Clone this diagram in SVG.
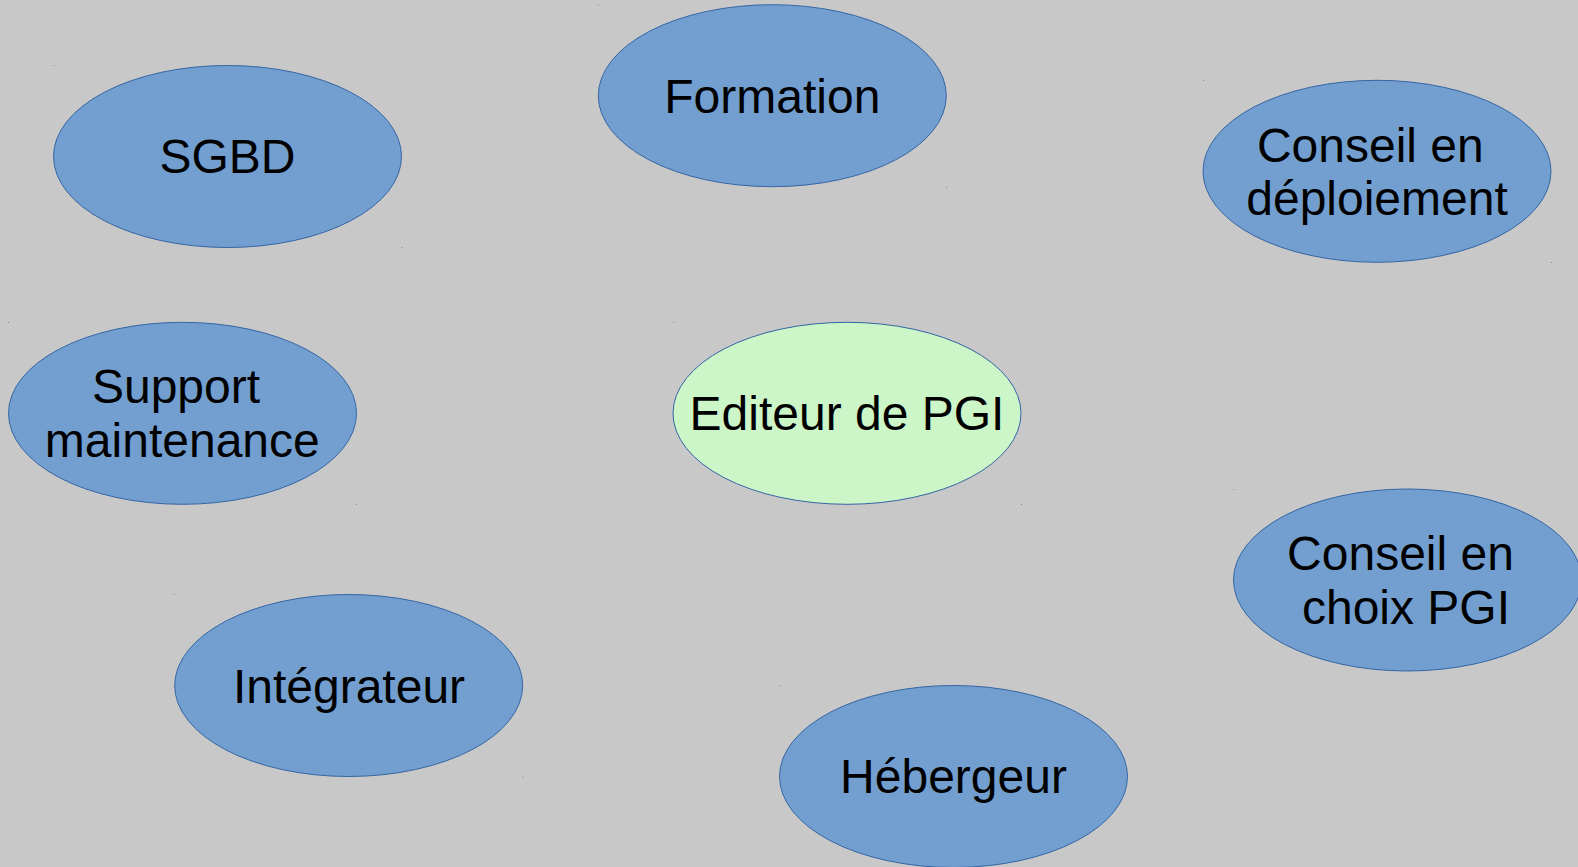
<svg xmlns="http://www.w3.org/2000/svg" width="1578" height="867" viewBox="0 0 1578 867">
<style>
.bg{fill:#c8c8c8}
.n{fill:#729fcf;stroke:#3465a4;stroke-width:1}
.c{fill:#ccf5c8;stroke:#3465a4;stroke-width:1}
.t{font-family:"Liberation Sans",Arial,sans-serif;font-size:48px;fill:#000;text-anchor:middle}
.d{fill:#3465a4;opacity:0.6}
</style>
<rect class="bg" x="0" y="0" width="1578" height="867"/>
<g id="connectors"></g>
<g id="sgbd">
<ellipse class="n" cx="227.5" cy="156.5" rx="174" ry="91"/>
<rect class="d" x="53.5" y="65" width="1" height="1"/><rect class="d" x="401.5" y="247" width="1" height="1"/>
<text class="t" x="227.5" y="173.3">SGBD</text>
</g>
<g id="formation">
<ellipse class="n" cx="772.3" cy="95.7" rx="174" ry="91"/>
<rect class="d" x="598" y="4.5" width="1" height="1"/><rect class="d" x="946" y="186.5" width="1" height="1"/>
<text class="t" x="772.3" y="113.3">Formation</text>
</g>
<g id="conseil-deploiement">
<ellipse class="n" cx="1377" cy="171.3" rx="174" ry="91"/>
<rect class="d" x="1203" y="80" width="1" height="1"/><rect class="d" x="1551" y="262" width="1" height="1"/>
<text class="t" x="1370.3" y="162.3">Conseil en</text>
<text class="t" x="1377" y="215">déploiement</text>
</g>
<g id="support">
<ellipse class="n" cx="182.5" cy="413.3" rx="174" ry="91"/>
<rect class="d" x="8" y="322" width="1" height="1"/><rect class="d" x="356" y="504" width="1" height="1"/>
<text class="t" x="176" y="403.3">Support</text>
<text class="t" x="182.3" y="456.7">maintenance</text>
</g>
<g id="editeur">
<ellipse class="c" cx="847" cy="413.3" rx="174" ry="91"/>
<rect class="d" x="673" y="322" width="1" height="1"/><rect class="d" x="1021" y="504" width="1" height="1"/>
<text class="t" x="847" y="430">Editeur de PGI</text>
</g>
<g id="conseil-choix">
<ellipse class="n" cx="1407.5" cy="580" rx="174" ry="91"/>
<rect class="d" x="1233" y="489" width="1" height="1"/>
<text class="t" x="1400.5" y="570">Conseil en</text>
<text class="t" x="1406" y="624">choix PGI</text>
</g>
<g id="integrateur">
<ellipse class="n" cx="348.7" cy="685.5" rx="174" ry="91"/>
<rect class="d" x="174" y="594" width="1" height="1"/><rect class="d" x="522.5" y="776.5" width="1" height="1"/>
<text class="t" x="349" y="702.7">Intégrateur</text>
</g>
<g id="hebergeur">
<ellipse class="n" cx="953.5" cy="776.5" rx="174" ry="91"/>
<rect class="d" x="779.5" y="685" width="1" height="1"/>
<text class="t" x="953.5" y="793.3">Hébergeur</text>
</g>
</svg>
